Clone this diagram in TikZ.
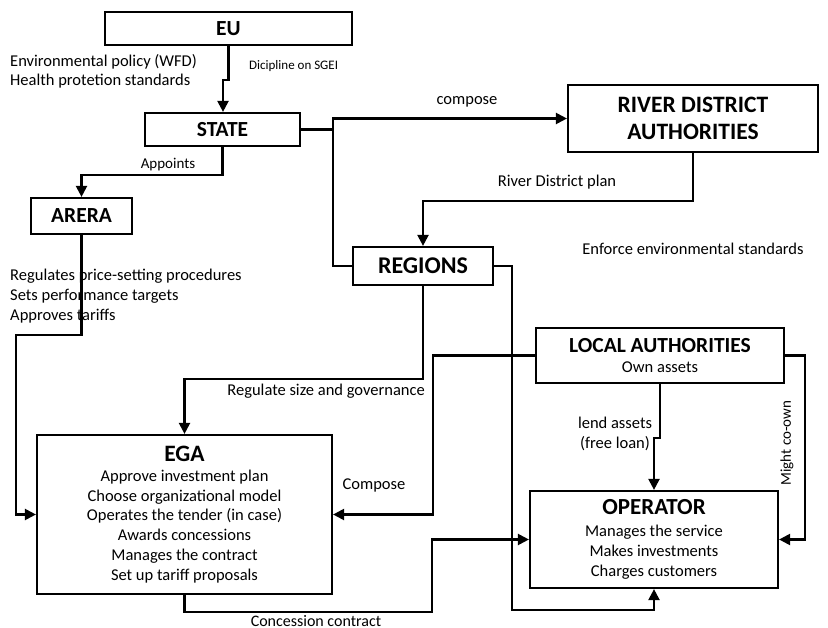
\documentclass[tikz,border=0pt]{standalone}
\usepackage{fontspec}
\setmainfont{Carlito}
\usetikzlibrary{arrows.meta}
\begin{document}
\begin{tikzpicture}[x=1pt,y=-1pt,
  box/.style={draw,line width=2.2pt,rectangle,inner sep=0pt,align=center,font=\fontsize{16.5}{19.8}\selectfont},
  conn/.style={line width=2.2pt},
  arr/.style={conn,-{Triangle[length=11pt,width=11pt]}},
  ttl/.style={font=\fontsize{21.5}{26}\selectfont\bfseries},
  body/.style={font=\fontsize{16.5}{19.8}\selectfont,inner sep=0pt},
  small/.style={font=\fontsize{15}{17}\selectfont,inner sep=0pt}]
\useasboundingbox (0,0) rectangle (828,628);
% boxes
\node[box,ttl,minimum width=247pt,minimum height=33pt] (eu) at (228.5,28.5) {EU};
\node[box,ttl,minimum width=155pt,minimum height=33pt] (state) at (222.5,129.5) {STATE};
\node[box,ttl,minimum width=101pt,minimum height=36pt] (arera) at (81.5,216) {ARERA};
\node[box,ttl,font=\fontsize{23.5}{27}\selectfont\bfseries,minimum width=250pt,minimum height=67pt] (rda) at (693,118.5) {RIVER DISTRICT\\AUTHORITIES};
\node[box,ttl,font=\fontsize{24}{27}\selectfont\bfseries,minimum width=140pt,minimum height=38pt] (regions) at (423,266) {REGIONS};
\node[box,minimum width=248pt,minimum height=55pt] (la) at (660,355.5)
  {{\fontsize{21.5}{26}\selectfont\bfseries LOCAL AUTHORITIES}\\[1pt]Own assets};
\node[box,minimum width=295pt,minimum height=159pt] (ega) at (184.5,514.5)
  {{\fontsize{23.5}{26}\selectfont\bfseries EGA}\\Approve investment plan\\Choose organizational model\\Operates the tender (in case)\\Awards concessions\\Manages the contract\\Set up tariff proposals};
\node[box,minimum width=248pt,minimum height=97pt] (operator) at (654,539.5)
  {{\fontsize{23}{26}\selectfont\bfseries OPERATOR}\\[2pt]Manages the service\\Makes investments\\Charges customers};
% junction coordinates
\coordinate (j1) at (223,80);
\coordinate (j2) at (333,129.5);
\coordinate (j3) at (16,335);
\coordinate (j4) at (433,400);
\coordinate (j5) at (432,612);
\coordinate (j6) at (805,450);
\coordinate (j7) at (512,610);
% connectors
\draw[arr] (eu.south) |- (j1) -- (j1 |- state.north);
\draw[arr] (state.south) -- ++(0,28) -| (arera.north);
\draw[conn] (state.east) -- (j2);
\draw[arr] (j2) |- (rda.west);
\draw[conn] (j2) |- (regions.west);
\draw[arr] (rda.south) -- ++(0,48) -| (regions.north);
\draw[arr] (regions.east) -| (j7) -| (operator.south);
\draw[arr] (regions.south) -- ++(0,93) -| (ega.north);
\draw[arr] (arera.south) |- (j3) |- (ega.west);
\draw[arr] (la.west) -| (j4) |- (ega.east);
\draw[arr] (ega.south) |- (j5) |- (operator.west);
\draw[arr] (la.south) -- ++(0,54) -| (operator.north);
\draw[arr] (la.east) -| (j6) |- (operator.east);
% labels
\node[body,anchor=west] (l1) at (10,62) {Environmental policy (WFD)};
\node[body,anchor=west] (l2) at (10,81) {Health protetion standards};
\node[small,anchor=west,font=\fontsize{13}{15}\selectfont] (l3) at (249,66) {Dicipline on SGEI};
\node[small] (l4) at (168,165) {Appoints};
\node[body] (l5) at (467,102) {compose};
\node[body] (l6) at (557,182) {River District plan};
\node[body] (l7) at (693,249) {Enforce environmental standards};
\node[body,anchor=west] (l8) at (10,276) {Regulates price-setting procedures};
\node[body,anchor=west] (l9) at (10,296) {Sets performance targets};
\node[body,anchor=west] (l10) at (10,316) {Approves tariffs};
\node[body,anchor=east] (l11) at (425,391) {Regulate size and governance};
\node[body] (l12) at (374,485) {Compose};
\node[body,anchor=base,font=\fontsize{16}{19}\selectfont] (l13) at (316,626) {Concession contract};
\node[body,align=center] (l14) at (615,434) {lend assets\\(free loan)};
\node[small,rotate=90] (l15) at (787,443) {Might co-own};
\end{tikzpicture}
\end{document}
